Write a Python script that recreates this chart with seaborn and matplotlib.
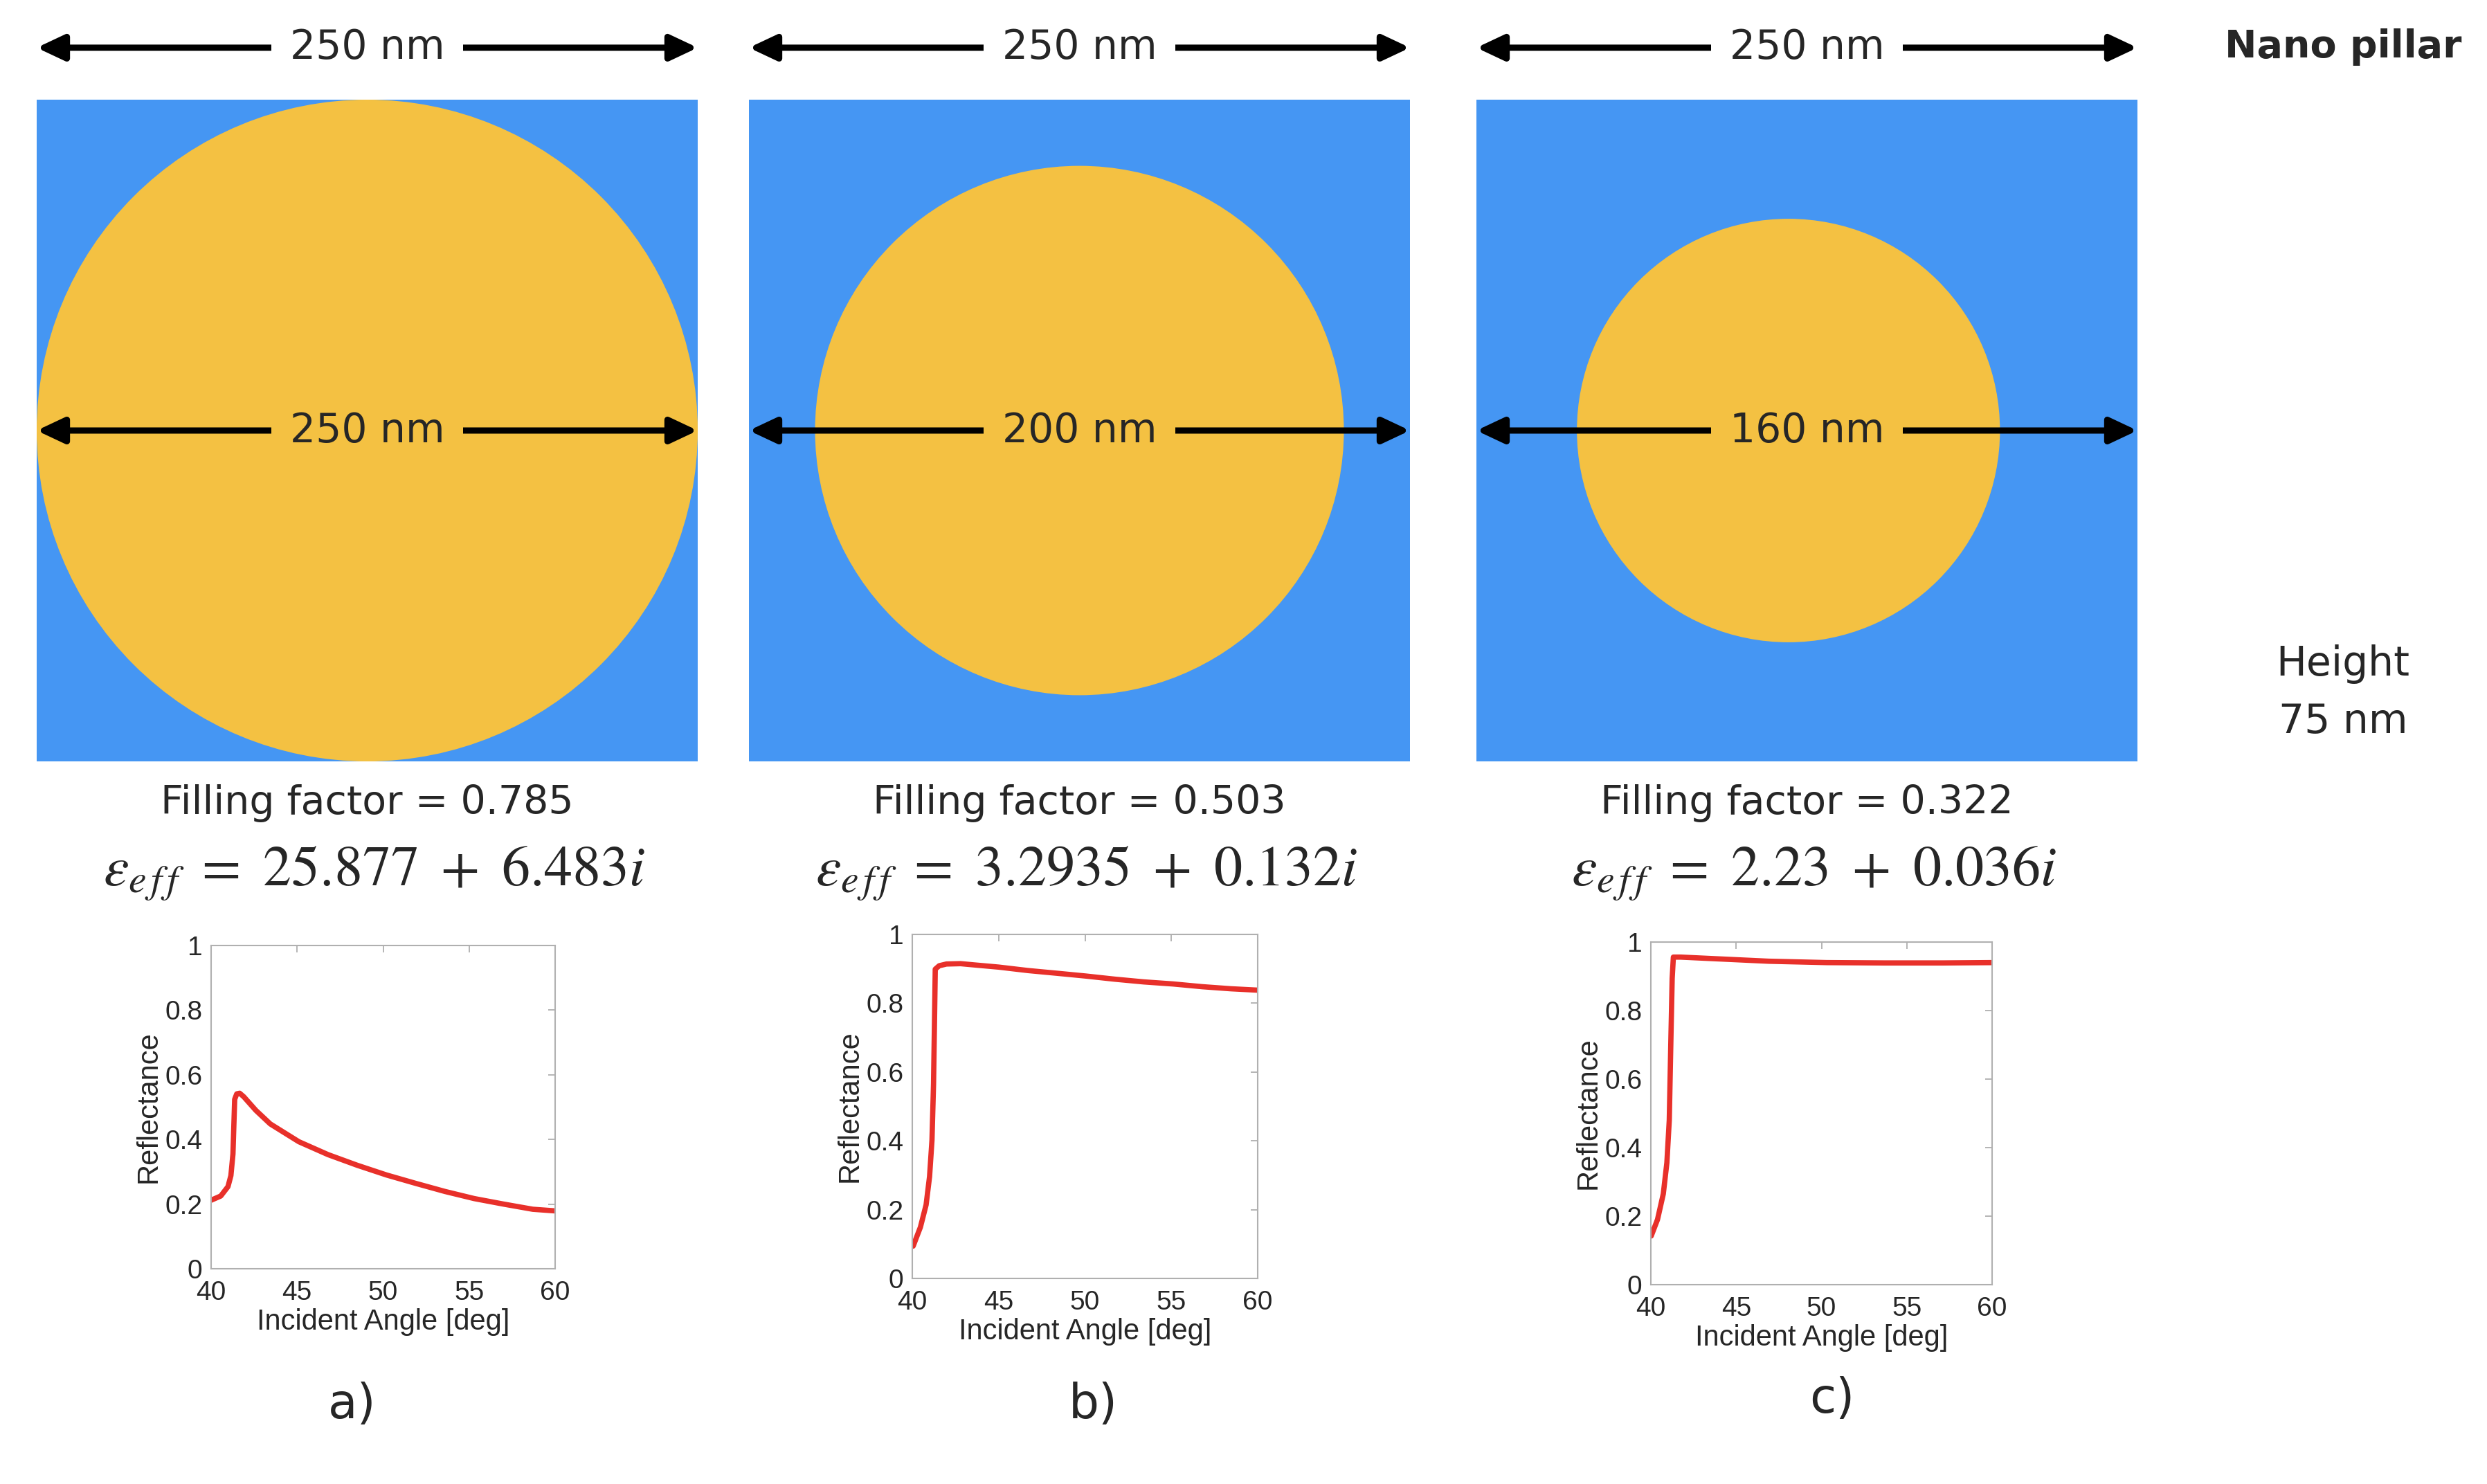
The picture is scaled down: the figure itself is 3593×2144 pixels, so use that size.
import matplotlib
matplotlib.use('Agg')
import matplotlib.pyplot as plt
import seaborn as sns
from matplotlib.patches import Rectangle, Circle

# pillar geometry (nm)
period = 250
diameters = [250, 200, 160]
circle_x = [0, 0, -7]   # the third pillar sits slightly left of centre in the drawing
fill_factors = ['0.785', '0.503', '0.322']
eps_real = ['25.877', '3.2935', '2.23']
eps_imag = ['6.483', '0.132', '0.036']
panel_labels = ['a)', 'b)', 'c)']

# reflectance curves
angle_a = [40.0, 40.56, 40.98, 41.15, 41.27, 41.37, 41.49, 41.66, 41.9, 42.6, 43.44,
           45.1, 46.8, 48.5, 50.2, 51.9, 53.6, 55.3, 57.0, 58.7, 60.0]
refl_a = [0.212, 0.225, 0.254, 0.288, 0.355, 0.524, 0.541, 0.543, 0.532, 0.49, 0.448,
          0.393, 0.353, 0.32, 0.29, 0.264, 0.239, 0.217, 0.2, 0.184, 0.179]
angle_b = [40.05, 40.47, 40.8, 41.0, 41.14, 41.23, 41.28, 41.33, 41.56, 41.98, 42.8,
           43.66, 45.0, 46.7, 48.4, 50.05, 51.7, 53.4, 55.1, 56.8, 58.45, 60.0]
refl_b = [0.094, 0.149, 0.214, 0.296, 0.402, 0.565, 0.728, 0.899, 0.909, 0.914, 0.915,
          0.911, 0.905, 0.895, 0.887, 0.879, 0.870, 0.862, 0.856, 0.848, 0.842, 0.838]
angle_c = [40.02, 40.39, 40.73, 40.94, 41.08, 41.13, 41.18, 41.25, 41.32, 41.76, 43.47,
           45.18, 46.9, 48.6, 50.3, 53.7, 57.1, 60.0]
refl_c = [0.142, 0.19, 0.265, 0.356, 0.48, 0.604, 0.728, 0.894, 0.956, 0.956, 0.952,
          0.948, 0.944, 0.942, 0.94, 0.939, 0.939, 0.94]

angles = [angle_a, angle_b, angle_c]
refls = [refl_a, refl_b, refl_c]
x_ticks = [40, 45, 50, 55, 60]
y_ticks = [0, 0.2, 0.4, 0.6, 0.8, 1]
y_tick_labels = ['0', '0.2', '0.4', '0.6', '0.8', '1']

BLUE = '#4596F3'
YELLOW = '#F4C142'
RED = '#E8302A'

sns.set_theme(style='white')
plt.rcParams['font.family'] = ['DejaVu Sans']
plt.rcParams['mathtext.fontset'] = 'stix'

W, H = 3593, 2144
fig = plt.figure(figsize=(W / 100, H / 100), dpi=100)

# layout in pixels of the full picture
sq_left = [53, 1082, 2133]
sq_size = 955
sq_top, sq_bottom = 144, 1100
plot_boxes = [(305, 802, 1366, 1833), (1318, 1817, 1350, 1847), (2385, 2878, 1361, 1856)]
nm_to_px = sq_size / period

for k in range(3):
    ax = fig.add_axes([sq_left[k] / W, 1 - sq_bottom / H, sq_size / W, (sq_bottom - sq_top) / H])
    ax.set_xlim(-period / 2, period / 2)
    ax.set_ylim(-period / 2, period / 2)
    ax.axis('off')
    ax.add_patch(Rectangle((-period / 2, -period / 2), period, period, fc=BLUE, ec='none'))
    ax.add_patch(Circle((circle_x[k], 0), diameters[k] / 2, fc=YELLOW, ec='none'))

    top_y = period / 2 + 75 / nm_to_px
    for y, label, bg in [(top_y, f'{period} nm', 'white'), (0, f'{diameters[k]} nm', YELLOW)]:
        ann = ax.annotate('', xy=(-period / 2, y), xytext=(period / 2, y),
                          arrowprops=dict(arrowstyle='<|-|>,head_length=1.7,head_width=0.8',
                                          mutation_scale=14, lw=6.5, color='black',
                                          shrinkA=0, shrinkB=0),
                          annotation_clip=False)
        ann.arrow_patch.set_clip_on(False)
        ax.text(0, y, label, ha='center', va='center', fontsize=42, zorder=6,
                clip_on=False, bbox=dict(boxstyle='square,pad=0.45', fc=bg, ec='none'))

    cx = (sq_left[k] + sq_size / 2) / W
    fig.text(cx, 1 - 1160 / H, f'Filling factor = {fill_factors[k]}',
             ha='center', va='center', fontsize=41)
    fig.text(cx + 10 / W, 1 - 1262 / H,
             r'$\varepsilon_{e\,f\,f}\ =\ %s\ +\ %s i$' % (eps_real[k], eps_imag[k]),
             ha='center', va='center', fontsize=59)

# reflectance vs angle
for k, (x0, x1, y0, y1) in enumerate(plot_boxes):
    ax = fig.add_axes([x0 / W, 1 - y1 / H, (x1 - x0) / W, (y1 - y0) / H])
    sns.lineplot(x=angles[k], y=refls[k], ax=ax, color=RED, lw=5.5)
    ax.set_xlim(40, 60)
    ax.set_ylim(0, 1)
    ax.set_xticks(x_ticks)
    ax.set_yticks(y_ticks)
    ax.set_yticklabels(y_tick_labels)
    ax.tick_params(direction='in', top=True, right=True, length=7, width=1.2,
                   color='#a8a8a8', labelsize=28, labelcolor='#262626',
                   labelfontfamily='Liberation Sans')
    ax.tick_params(axis='x', pad=12)
    ax.tick_params(axis='y', pad=9)
    for sp in ax.spines.values():
        sp.set_color('#b0b0b0')
        sp.set_linewidth(1.5)
    ax.set_xlabel('Incident Angle [deg]', fontsize=30, color='#262626',
                  fontfamily='Liberation Sans', labelpad=3)
    ax.set_ylabel('Reflectance', fontsize=30, color='#262626',
                  fontfamily='Liberation Sans', labelpad=3)

label_pos = [(509, 2030), (1579, 2030), (2647, 2021)]
for (px, py), lab in zip(label_pos, panel_labels):
    fig.text(px / W, 1 - py / H, lab, ha='center', va='center', fontsize=50)

fig.text(3385 / W, 1 - 68 / H, 'Nano pillar', ha='center', va='center',
         fontsize=40, fontweight='bold')
fig.text(3385 / W, 1 - 1001 / H, 'Height\n75 nm', ha='center', va='center',
         fontsize=42, linespacing=1.6)

fig.savefig('out.png', dpi=100, facecolor='white')
